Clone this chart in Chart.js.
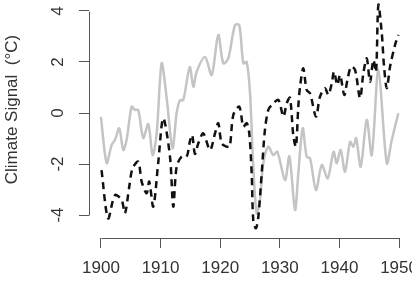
<!DOCTYPE html>
<html><head><meta charset="utf-8">
<script src="https://cdn.jsdelivr.net/npm/chart.js@4"></script>
<style>html,body{margin:0;padding:0;background:#fff;overflow:hidden}#wrap{width:412px;height:282px;position:relative}</style>
</head><body><div id="wrap"><canvas id="c" width="412" height="282"></canvas></div>
<script>
const grayYears = [1900.0,1900.96,1901.8,1902.35,1903.07,1903.74,1904.3,1905.15,1905.7,1906.26,1907.1,1907.94,1908.67,1909.35,1910.18,1911.0,1912.0,1912.7,1913.25,1913.8,1914.9,1915.5,1916.06,1917.45,1918.57,1919.68,1920.52,1921.36,1922.48,1923.2,1923.88,1924.45,1925.0,1925.55,1926.12,1926.68,1927.23,1928.07,1928.9,1929.58,1930.87,1931.6,1932.55,1933.1,1933.84,1934.5,1935.07,1936.07,1937.03,1938.04,1939.0,1939.55,1940.2,1940.94,1941.78,1942.33,1942.8,1943.57,1944.58,1945.42,1946.53,1947.94,1948.78,1949.88];
const grayValues = [-0.15,-1.96,-1.25,-1.06,-0.6,-1.45,-1.06,0.25,0.12,0.12,-0.98,-0.43,-1.65,-0.8,1.95,0.64,-1.38,0.0,0.5,0.5,1.8,1.03,1.62,2.2,1.49,3.06,1.95,2.14,3.45,3.45,1.95,2.0,0.78,-2.1,-3.93,-3.4,-1.97,-1.32,-1.65,-1.52,-2.63,-1.7,-3.8,-2.37,-0.6,-1.71,-1.78,-3.02,-2.04,-2.56,-1.52,-1.97,-1.45,-2.3,-1.13,-1.32,-0.99,-2.1,-0.27,-1.65,1.69,-1.97,-1.06,-0.01];
const blackYears = [1900.1,1901.2,1902.35,1903.47,1904.03,1904.75,1905.3,1906.26,1906.83,1907.67,1908.1,1908.78,1909.6,1910.45,1911.58,1912.13,1912.7,1913.54,1914.38,1914.93,1915.3,1915.77,1916.33,1917.16,1918.29,1919.13,1919.68,1920.25,1921.09,1921.6,1922.2,1923.2,1923.88,1924.45,1924.88,1925.28,1925.55,1926.0,1926.4,1926.96,1927.5,1928.07,1928.64,1929.75,1930.6,1931.16,1931.7,1932.27,1932.7,1933.1,1933.39,1933.94,1934.5,1935.07,1936.07,1936.74,1937.58,1938.14,1938.71,1939.09,1939.65,1940.1,1940.82,1941.33,1941.95,1942.62,1943.46,1944.01,1944.58,1945.13,1945.69,1946.14,1946.53,1947.1,1947.48,1947.94,1948.49,1949.33,1949.88];
const blackValues = [-2.24,-4.13,-3.22,-3.41,-3.93,-2.89,-2.17,-1.91,-2.69,-3.15,-2.69,-3.67,-1.97,-0.21,-1.71,-3.67,-2.1,-1.71,-1.71,-1.1,-0.86,-1.6,-1.19,-0.8,-1.45,-0.8,-0.4,-1.19,-1.32,-1.32,-0.08,0.25,-0.54,-0.4,-0.8,-2.37,-4.2,-4.52,-4.07,-2.37,-0.67,0.12,0.31,0.51,-0.14,0.38,0.6,-0.9,-1.32,0.25,1.03,1.75,0.9,0.77,-0.14,0.64,0.97,0.71,1.16,1.62,1.1,1.49,0.71,1.29,1.82,1.69,0.58,1.56,2.14,1.23,2.08,1.62,4.24,3.13,1.82,0.97,1.82,2.67,3.06];
const xTickValues = [1900,1910,1920,1930,1940,1950];
const yTickValues = [-4,-2,0,2,4];
const yAxisTitle = 'Climate Signal  (°C)';

const toPoints = (xs, ys) => xs.map((x, i) => ({x: x, y: ys[i]}));
const FONT = "'Liberation Sans', Arial, Helvetica, sans-serif";
const AXIS_COLOR = '#555';

const axisLines = {
  id: 'axisLines',
  afterDraw(chart) {
    const {ctx, chartArea, scales} = chart;
    const x = scales.x, y = scales.y;
    ctx.save();
    ctx.strokeStyle = AXIS_COLOR;
    ctx.lineWidth = 1;
    ctx.beginPath();
    const yb = Math.round(chartArea.bottom) + 0.5;
    ctx.moveTo(Math.round(x.getPixelForValue(xTickValues[0])) + 0.5, yb);
    ctx.lineTo(Math.round(x.getPixelForValue(xTickValues[xTickValues.length - 1])) + 0.5, yb);
    const xl = Math.round(chartArea.left) + 0.5;
    ctx.moveTo(xl, Math.round(y.getPixelForValue(yTickValues[0])) + 0.5);
    ctx.lineTo(xl, Math.round(y.getPixelForValue(yTickValues[yTickValues.length - 1])) + 0.5);
    ctx.stroke();
    ctx.restore();
  }
};

new Chart(document.getElementById('c'), {
  type: 'line',
  data: {
    datasets: [
      {
        label: 'dashed',
        data: toPoints(blackYears, blackValues),
        borderColor: '#111',
        borderWidth: 2.5,
        borderDash: [7, 5],
        pointRadius: 0,
        tension: 0.3,
        fill: false,
        order: 0
      },
      {
        label: 'gray',
        data: toPoints(grayYears, grayValues),
        borderColor: '#c4c4c4',
        borderWidth: 2.5,
        pointRadius: 0,
        tension: 0.3,
        fill: false,
        order: 1
      }
    ]
  },
  options: {
    responsive: false,
    animation: false,
    devicePixelRatio: 1,
    layout: {padding: {top: 0, right: 1, left: 0, bottom: 0}},
    plugins: {legend: {display: false}, tooltip: {enabled: false}, title: {display: false}},
    scales: {
      x: {
        type: 'linear',
        min: 1898, max: 1952,
        afterBuildTicks: s => { s.ticks = xTickValues.map(v => ({value: v})); },
        afterFit: s => { s.height = 44; s.paddingLeft = 0; s.paddingRight = 0; },
        grid: {drawOnChartArea: false, drawTicks: true, tickLength: 10, color: AXIS_COLOR, lineWidth: 1},
        border: {display: false},
        ticks: {font: {family: FONT, size: 17}, color: '#333', padding: 10, minRotation: 0, maxRotation: 0, autoSkip: false, callback: v => String(v)}
      },
      y: {
        type: 'linear',
        min: -4.9, max: 4.43,
        afterBuildTicks: s => { s.ticks = yTickValues.map(v => ({value: v})); },
        afterFit: s => { s.width = 89; s.paddingTop = 0; s.paddingBottom = 0; },
        grid: {drawOnChartArea: false, drawTicks: true, tickLength: 10, color: AXIS_COLOR, lineWidth: 1},
        border: {display: false},
        title: {display: true, text: '    ' + yAxisTitle, font: {family: FONT, size: 17}, color: '#333', padding: {top: 2, bottom: 0}},
        ticks: {font: {family: FONT, size: 17}, color: '#333', padding: 13, minRotation: 90, maxRotation: 90, crossAlign: 'center', autoSkip: false, callback: v => String(v)}
      }
    }
  },
  plugins: [axisLines]
});
</script>
</body></html>
